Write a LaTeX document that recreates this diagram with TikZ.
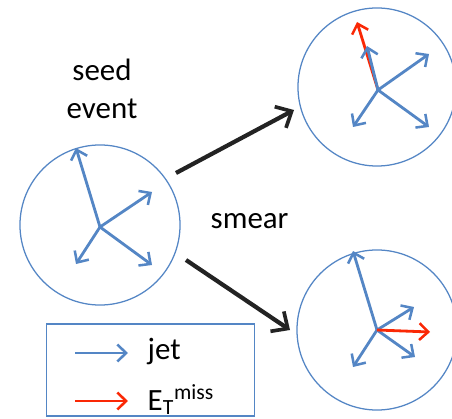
\documentclass[tikz,border=0pt]{standalone}
\usepackage{fontspec}
\setmainfont{Carlito}
\usetikzlibrary{arrows.meta}
\definecolor{jetblue}{RGB}{84,134,197}
\definecolor{metred}{RGB}{250,40,5}
\definecolor{blk}{RGB}{35,35,35}

\begin{document}
\begin{tikzpicture}[x=0.025cm,y=-0.025cm,
  evt/.style={circle,draw=jetblue,line width=0.9pt,minimum size=#1,inner sep=0pt},
  jet/.style={draw=jetblue,line width=2pt,-{Straight Barb[length=2.2mm,width=4.2mm,line width=1.8pt]}},
  met/.style={draw=metred,line width=2pt,-{Straight Barb[length=2.2mm,width=4.2mm,line width=1.8pt]}},
  flow/.style={draw=blk,line width=3pt,-{Straight Barb[length=3.2mm,width=6mm,line width=2.6pt]}},
  lbl/.style={font=\fontsize{22}{27.5}\selectfont,text=black,inner sep=1pt}]
\useasboundingbox (0,0) rectangle (452,419);
% ---------- seed event ----------
\node[evt=4cm] (seed) at (100,225) {};
\coordinate (o1) at (100,227);
\foreach \t in {(76,148),(152,192),(76,264),(152,265)}{\draw[jet] (o1) -- \t;}
\node[lbl,align=center] (seedtxt) at (102,89) {seed\\event};
% ---------- smeared, top ----------
\node[evt=3.95cm] (up) at (377,87) {};
\coordinate (o2) at (378,90);
\draw[met] (o2) -- (357,22);
\foreach \t in {(367,46),(429,54),(353,127),(429,127)}{\draw[jet] (o2) -- \t;}
% ---------- smeared, bottom ----------
\node[evt=4cm] (low) at (377,330) {};
\coordinate (o3) at (377,330);
\foreach \t in {(353,251),(414,307),(415,357),(353,367)}{\draw[jet] (o3) -- \t;}
\draw[met] (o3) -- (430,332);
% ---------- smear arrows ----------
\coordinate (a1) at (176,173); \coordinate (b1) at (294,110);
\coordinate (a2) at (186,260); \coordinate (b2) at (290,330);
\draw[flow] (a1) -- (b1);
\draw[flow] (a2) -- (b2);
\node[lbl,anchor=base west] (smear) at (209,228) {smear};
% ---------- legend ----------
\node[draw=jetblue,line width=0.9pt,minimum width=5.2cm,minimum height=2.3cm,inner sep=0pt] (leg) at (150.5,370) {};
\coordinate (j1) at (75,353); \coordinate (j2) at (128,353);
\coordinate (m1) at (75,401); \coordinate (m2) at (128,401);
\draw[jet,line width=1.5pt] (j1) -- (j2);
\draw[met,line width=1.5pt] (m1) -- (m2);
\node[lbl,anchor=west] (jettxt) at (146,352) {jet};
\node[lbl,anchor=west] (mettxt) at (146,400) {E\textsubscript{T}\textsuperscript{miss}};
\end{tikzpicture}
\end{document}
